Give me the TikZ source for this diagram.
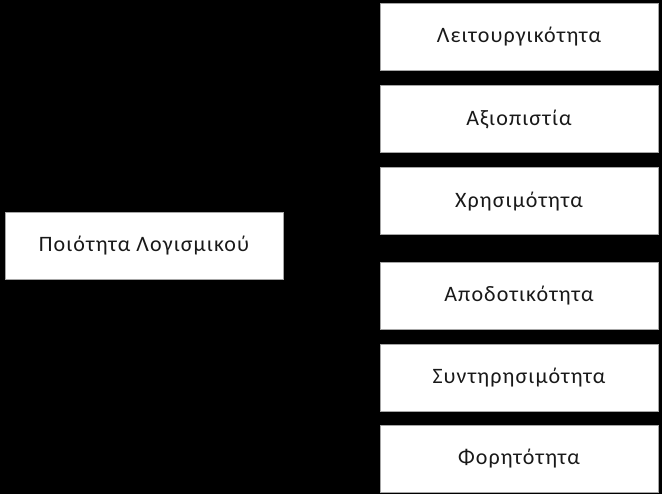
\documentclass[tikz,border=0pt]{standalone}
\usepackage{fontspec}
\setmainfont[LetterSpace=5]{Carlito}
\usetikzlibrary{positioning}

\tikzset{qbox/.style={draw=gray!70, fill=white, line width=0.8pt,
  minimum width=278pt, minimum height=67pt, inner sep=0pt,
  font=\fontsize{22}{26}\selectfont, text=black!90}}

\begin{document}
\begin{tikzpicture}[x=1pt,y=-1pt, node distance=14pt]

\fill[black] (0,0) rectangle (662,494);
\useasboundingbox (0,0) rectangle (662,494);

\node[qbox] (quality) at (144,246) {Ποιότητα Λογισμικού};

\node[qbox] (func) at (519,36.5) {Λειτουργικότητα};
\node[qbox, below=15pt of func] (reli) {Αξιοπιστία};
\node[qbox, below=of reli] (usab) {Χρησιμότητα};
\node[qbox, below=27pt of usab] (effi) {Αποδοτικότητα};
\node[qbox, below=of effi] (main) {Συντηρησιμότητα};
\node[qbox, below=13pt of main] (port) {Φορητότητα};

\end{tikzpicture}
\end{document}
